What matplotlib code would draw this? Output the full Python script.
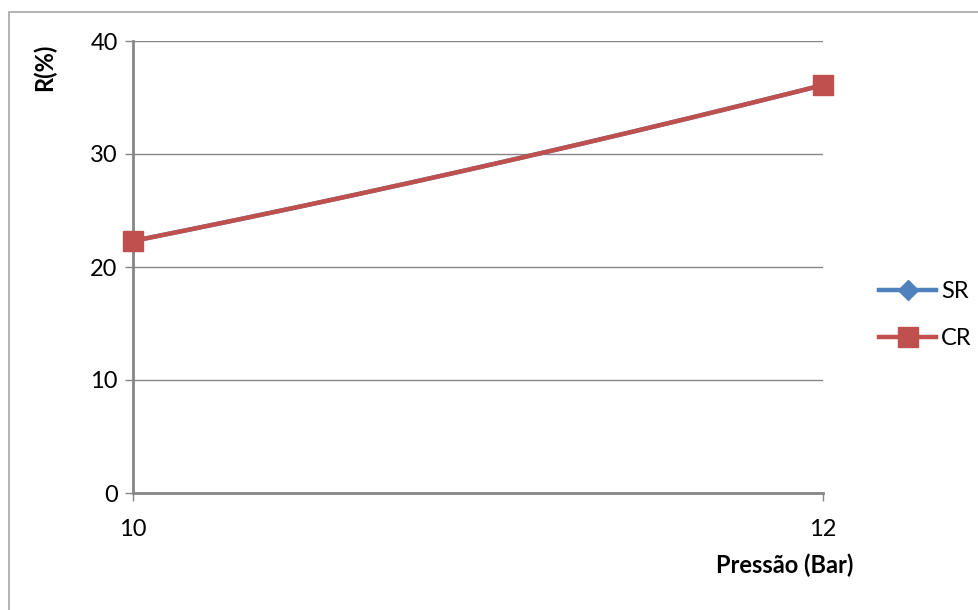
import matplotlib.pyplot as plt
from matplotlib.patches import Rectangle
import numpy as np

# Pressure (bar) and R (%) for both series; 11 bar is the unmarked bend point
pressao = [10, 11, 12]
r_sr = [22.3, 28.8, 36.1]
r_cr = [22.3, 28.8, 36.1]
marked = [0, 2]

x_ticks = [10, 12]
y_ticks = [0, 10, 20, 30, 40]

BLUE = '#4F81BD'
RED = '#C0504D'
GRID = '#868686'

plt.rcParams['font.family'] = ['Lato', 'DejaVu Sans']

fig = plt.figure(figsize=(9.79, 6.10), dpi=100)
ax = fig.add_axes([133 / 979, 1 - 493 / 610, 690 / 979, 452 / 610])

# outer chart frame
fig.patches.append(Rectangle((9 / 979, -0.05), 1.1, 1 - 12 / 610 + 0.05,
                             transform=fig.transFigure, fill=False,
                             edgecolor='#A6A6A6', linewidth=1.2))


def smooth(xs, ys):
    # quadratic through the three points, drawn as a smooth line
    c = np.polyfit(xs, ys, 2)
    xx = np.linspace(xs[0], xs[-1], 200)
    return xx, np.polyval(c, xx)


for ys, col, mk, ms, lab in [(r_sr, BLUE, 'D', 10, 'SR'), (r_cr, RED, 's', 14, 'CR')]:
    xx, yy = smooth(pressao, ys)
    ax.plot(xx, yy, color=col, lw=3.2, solid_capstyle='round', zorder=3)
    ax.plot([pressao[i] for i in marked], [ys[i] for i in marked], ls='none',
            marker=mk, ms=ms, color=col, zorder=4, clip_on=False)
    ax.plot([], [], color=col, lw=3.2, marker=mk, ms=ms, label=lab)

ax.set_xlim(10, 12)
ax.set_ylim(0, 40)
ax.set_xticks(x_ticks)
ax.set_yticks(y_ticks)
ax.yaxis.grid(True, color=GRID, lw=1)
ax.set_axisbelow(True)

for s in ['top', 'right']:
    ax.spines[s].set_visible(False)
for s in ['left', 'bottom']:
    ax.spines[s].set_color(GRID)
    ax.spines[s].set_linewidth(2)

ax.tick_params(axis='both', colors=GRID, labelcolor='black', labelsize=17,
               length=6, width=1)
ax.tick_params(axis='x', pad=13)
ax.tick_params(axis='y', pad=5)

fig.text(44 / 979, 1 - 67 / 610, 'R(%)', rotation=90, fontsize=17,
         fontweight='bold', ha='center', va='center')
fig.text(785 / 979, 1 - 565 / 610, 'Pressão (Bar)', fontsize=17,
         fontweight='bold', ha='center', va='center')

ax.legend(loc='center left', bbox_to_anchor=(870 / 979, 1 - 315 / 610),
          bbox_transform=fig.transFigure, frameon=False, fontsize=17,
          handlelength=2.4, handletextpad=0.2, labelspacing=1.1,
          borderaxespad=0)

fig.savefig('out.png', dpi=100)
